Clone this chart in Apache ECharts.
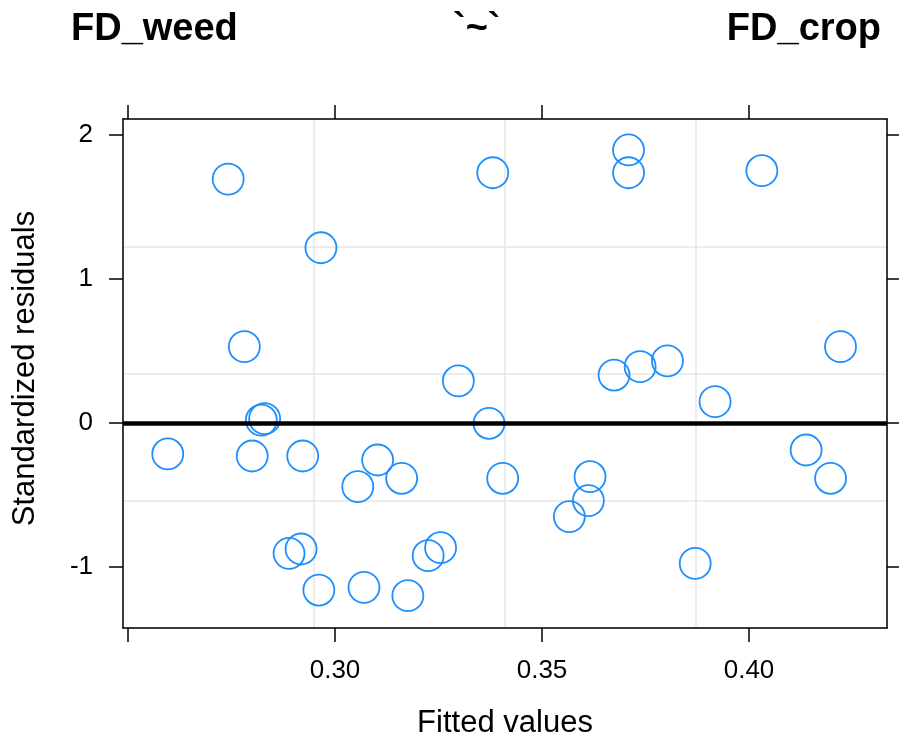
<!DOCTYPE html>
<html>
<head>
<meta charset="utf-8">
<title>FD_weed ~ FD_crop residuals</title>
<script src="https://cdn.jsdelivr.net/npm/echarts@6.0.0/dist/echarts.min.js"></script>
<style>
  html, body { margin: 0; padding: 0; background: #fff; }
  #chart { width: 899px; height: 745px; }
</style>
</head>
<body>
<div id="chart"></div>
<script>
// Fitted values and standardized residuals of the FD_weed ~ FD_crop model
var fittedValues = [
  0.2596, 0.2742, 0.2781, 0.2800, 0.2822, 0.2830, 0.2889, 0.2918, 0.2922,
  0.2961, 0.2966, 0.3055, 0.3070, 0.3103, 0.3161, 0.3176, 0.3225, 0.3255,
  0.3298, 0.3372, 0.3381, 0.3405, 0.3566, 0.3612, 0.3616, 0.3674, 0.3709,
  0.3709, 0.3737, 0.3803, 0.3870, 0.3918, 0.4031, 0.4138, 0.4197, 0.4221
];
var stdResiduals = [
  -0.215, 1.694, 0.530, -0.229, 0.020, 0.030, -0.905, -0.875, -0.229,
  -1.160, 1.217, -0.442, -1.141, -0.257, -0.384, -1.199, -0.921, -0.866,
  0.292, -0.002, 1.738, -0.384, -0.650, -0.539, -0.373, 0.333, 1.896,
  1.738, 0.391, 0.431, -0.975, 0.148, 1.752, -0.1875, -0.384, 0.530
];

// Axis ticks and labels
var xTicks = [0.25, 0.30, 0.35, 0.40];
var xTickLabels = [0.30, 0.35, 0.40];
var yTicks = [-1, 0, 1, 2];
var xRange = [0.24879, 0.43333];
var yRange = [-1.4236, 2.1111];

var titleParts = ['FD_weed', '`~`', 'FD_crop'];

var points = fittedValues.map(function (v, i) { return [v, stdResiduals[i]]; });

var FONT = '"Liberation Sans", Arial, Helvetica, sans-serif';
var AXIS_COLOR = '#000';

var chart = echarts.init(document.getElementById('chart'), null, { renderer: 'canvas' });

var titleStyle = { fontFamily: FONT, fontSize: 38, fontWeight: 'bold', color: '#000' };

function boxLine() {
  return { show: true, onZero: false, lineStyle: { color: AXIS_COLOR, width: 1.5 } };
}
function boxTicks(values) {
  return { show: true, length: 14, customValues: values, lineStyle: { color: AXIS_COLOR, width: 1.5 } };
}

chart.setOption({
  animation: false,
  backgroundColor: '#fff',
  title: [
    { text: titleParts[0], left: 71, top: 11, padding: 0, textStyle: titleStyle },
    { text: titleParts[1], left: 453, top: 11, padding: 0, textStyle: titleStyle },
    { text: titleParts[2], right: 18, top: 11, padding: 0, textStyle: titleStyle }
  ],
  grid: { left: 123, top: 119, width: 764, height: 509, containLabel: false },
  xAxis: [
    {
      type: 'value', position: 'bottom', min: xRange[0], max: xRange[1],
      name: 'Fitted values', nameLocation: 'middle', nameGap: 80,
      nameTextStyle: { fontFamily: FONT, fontSize: 31, color: '#000' },
      axisLine: boxLine(),
      axisTick: boxTicks(xTicks),
      axisLabel: {
        show: true, customValues: xTickLabels, margin: 30,
        fontFamily: FONT, fontSize: 26, color: '#000',
        formatter: function (v) { return v.toFixed(2); }
      },
      splitLine: { show: false }
    },
    {
      type: 'value', position: 'top', min: xRange[0], max: xRange[1],
      axisLine: boxLine(),
      axisTick: boxTicks(xTicks),
      axisLabel: { show: false },
      splitLine: { show: false }
    },
    {
      // evenly spaced reference grid inside the panel
      type: 'value', position: 'bottom', min: 0, max: 4, interval: 1,
      axisLine: { show: false, onZero: false }, axisTick: { show: false }, axisLabel: { show: false },
      splitLine: { show: true, lineStyle: { color: '#e6e6e6', width: 1.5 } }
    }
  ],
  yAxis: [
    {
      type: 'value', position: 'left', min: yRange[0], max: yRange[1],
      name: 'Standardized residuals', nameLocation: 'middle', nameGap: 82,
      nameTextStyle: { fontFamily: FONT, fontSize: 31, color: '#000', padding: [0, 0, 0, 10] },
      axisLine: boxLine(),
      axisTick: boxTicks(yTicks),
      axisLabel: {
        show: true, customValues: yTicks, margin: 30,
        fontFamily: FONT, fontSize: 26, color: '#000'
      },
      splitLine: { show: false }
    },
    {
      type: 'value', position: 'right', min: yRange[0], max: yRange[1],
      axisLine: boxLine(),
      axisTick: boxTicks(yTicks),
      axisLabel: { show: false },
      splitLine: { show: false }
    },
    {
      type: 'value', position: 'left', min: 0, max: 4, interval: 1,
      axisLine: { show: false, onZero: false }, axisTick: { show: false }, axisLabel: { show: false },
      splitLine: { show: true, lineStyle: { color: '#e6e6e6', width: 1.5 } }
    }
  ],
  series: [
    {
      type: 'scatter',
      xAxisIndex: 0, yAxisIndex: 0,
      data: points,
      symbol: 'circle',
      symbolSize: 31,
      itemStyle: { color: 'rgba(0,0,0,0)', borderColor: '#1e8fff', borderWidth: 1.8, opacity: 1 },
      markLine: {
        silent: true,
        symbol: 'none',
        label: { show: false },
        lineStyle: { color: '#000', width: 4.5, type: 'solid' },
        data: [{ yAxis: 0 }],
        z: 5
      },
      z: 3
    }
  ]
});
</script>
</body>
</html>
